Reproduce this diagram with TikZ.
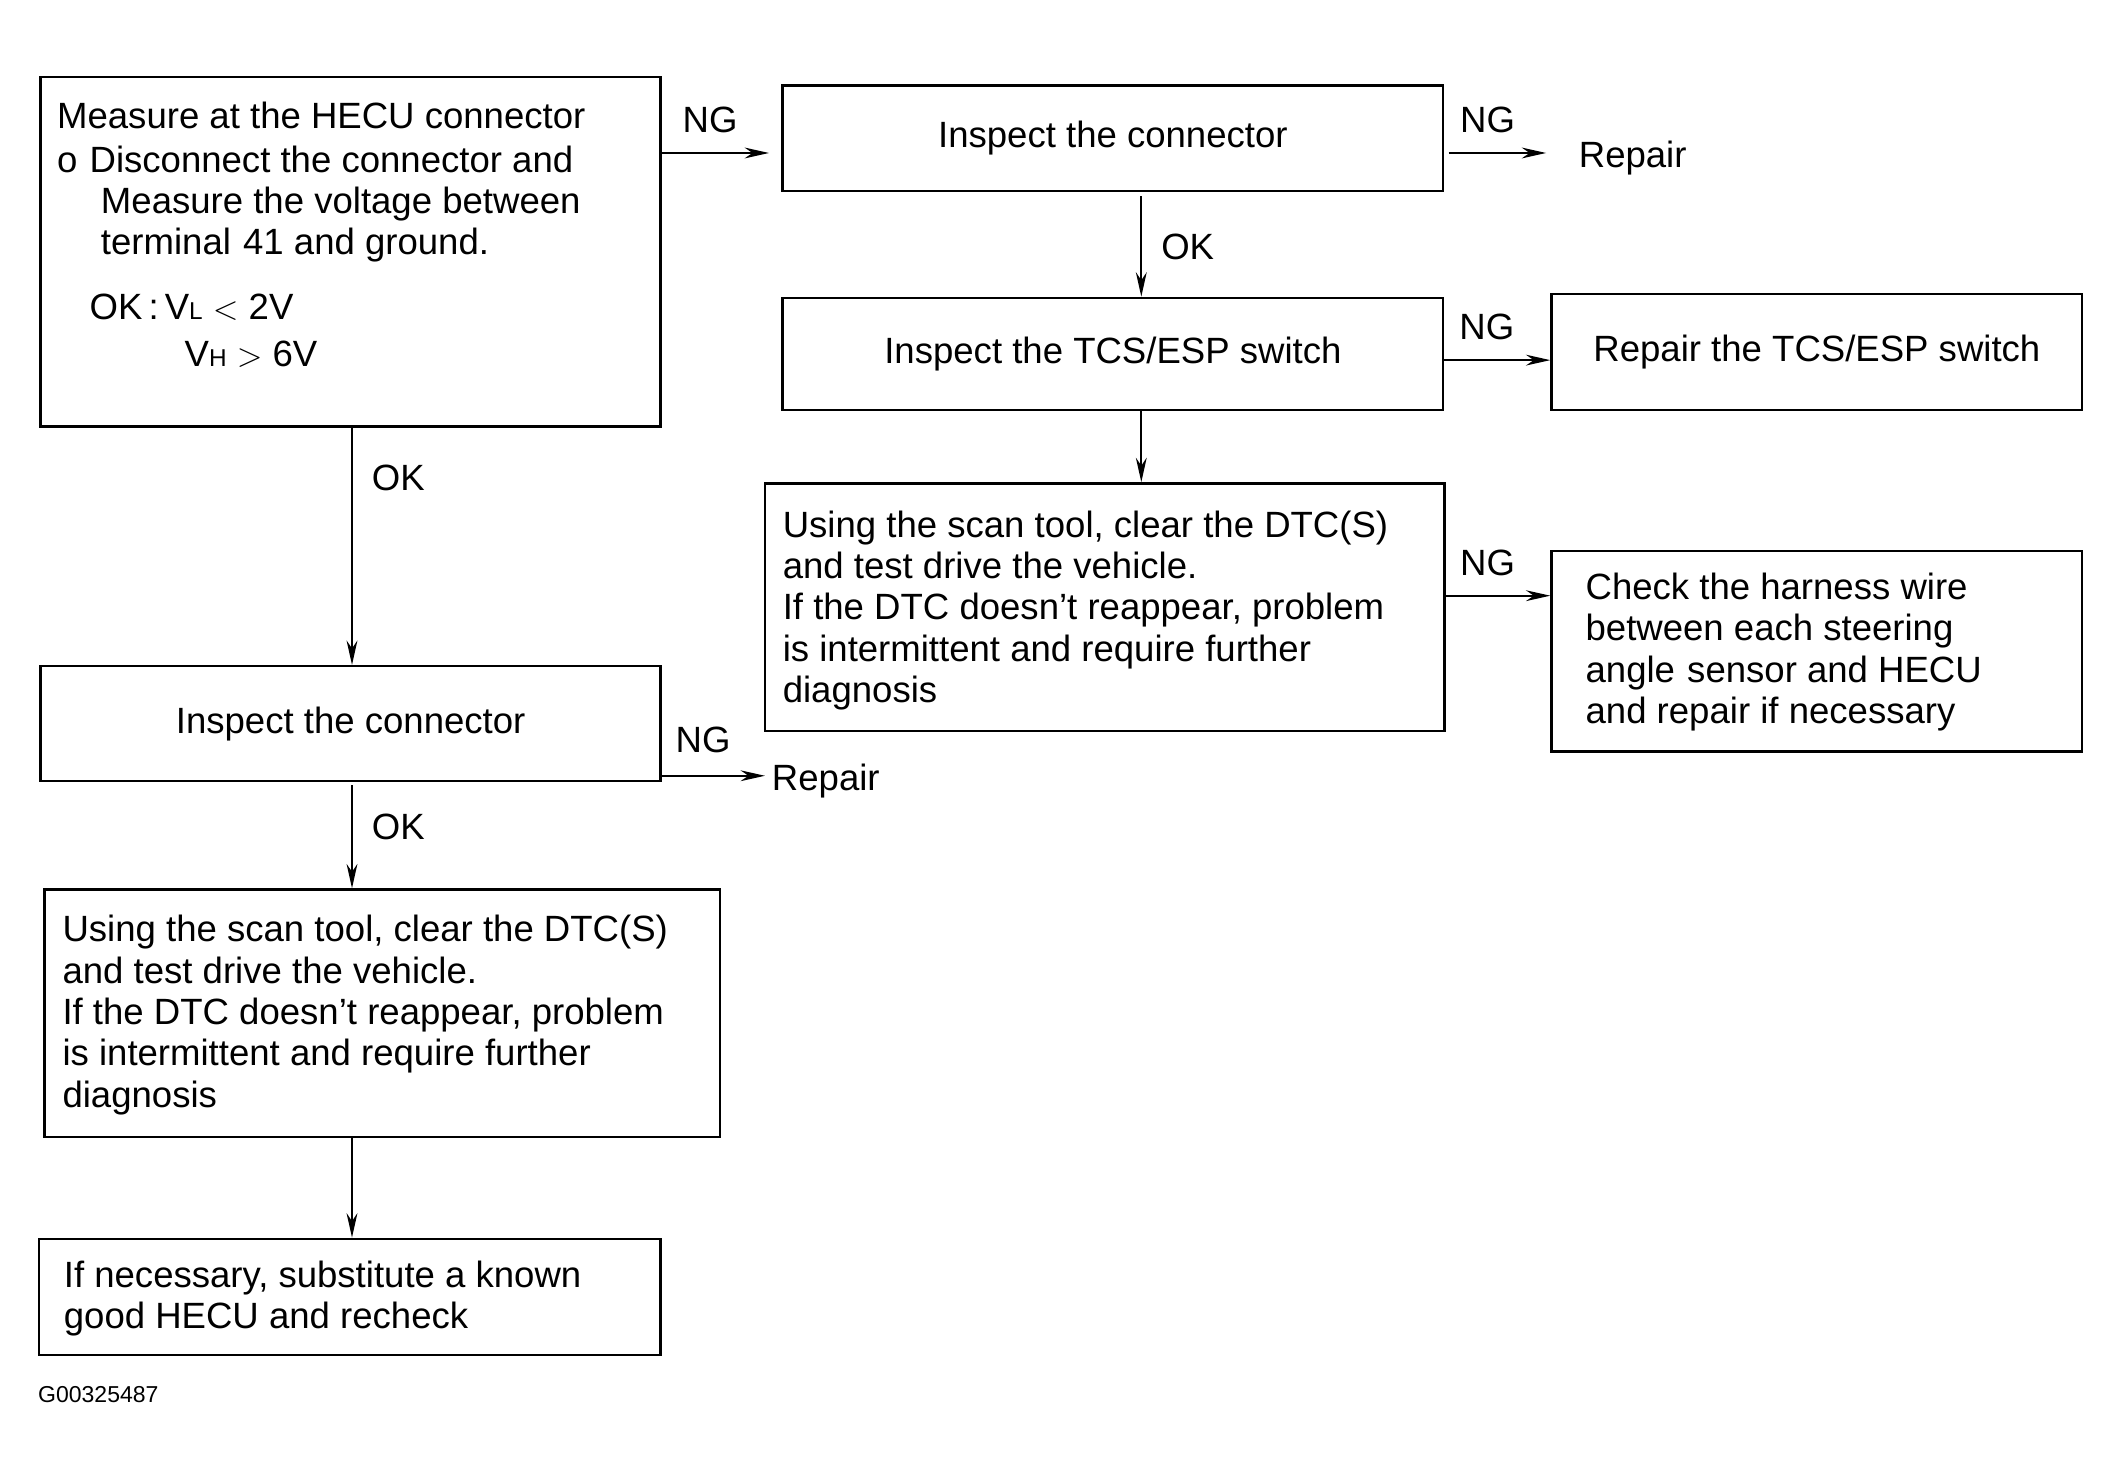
\documentclass[tikz,border=0pt]{standalone}
\usepackage{fontspec}
\setmainfont{Liberation Sans}
\usetikzlibrary{arrows.meta}
\begin{document}
\begin{tikzpicture}[x=1pt,y=-1pt,
  box/.style={draw,line width=1.8pt,inner sep=0pt},
  txt/.style={anchor=north west,align=left,inner sep=0pt,font=\fontsize{27}{30.5}\selectfont},
  lbl/.style={inner sep=0pt,font=\fontsize{27}{30}\selectfont},
  arr/.style={line width=1.5pt,-{Stealth[length=18pt,width=8pt]}}]
\useasboundingbox (0,0) rectangle (1560,1087);
% boxes
\node[box,minimum width=458pt,minimum height=258pt] (A) at (259,186) {};
\node[box,minimum width=488pt,minimum height=78pt] (B) at (822,102) {};
\node[box,minimum width=488pt,minimum height=83pt] (C) at (822,261.5) {};
\node[box,minimum width=502pt,minimum height=183pt] (D) at (816,448.5) {};
\node[box,minimum width=392pt,minimum height=86pt] (E) at (1342,260) {};
\node[box,minimum width=392pt,minimum height=148pt] (F) at (1342,481) {};
\node[box,minimum width=458pt,minimum height=85pt] (G) at (259,534.5) {};
\node[box,minimum width=499pt,minimum height=183pt] (H) at (282.5,748.5) {};
\node[box,minimum width=459pt,minimum height=86pt] (I) at (258.5,958) {};
% texts
\node[txt] (At) at (42,75) {Measure at the HECU connector\\[2pt]
o\,\,Disconnect the connector and\\
\hspace*{1.2em}Measure the voltage between\\
\hspace*{1.2em}terminal\,\,41 and ground.};
\node[txt] (Av) at (66,217) {OK\,:\,V{\fontsize{18}{20}\selectfont L} $<$ 2V\\[4pt]\hspace*{2.6em}V{\fontsize{18}{20}\selectfont H} $>$ 6V};
\node[lbl] at (B.center) {Inspect the connector};
\node[lbl] at (C.center) {Inspect the TCS/ESP switch};
\node[txt] at (578,377) {Using the scan tool, clear the DTC(S)\\and test drive the vehicle.\\If the DTC doesn't reappear, problem\\is intermittent and require further\\diagnosis};
\node[lbl] at (E.center) {Repair the TCS/ESP switch};
\node[txt] at (1171,423) {Check the harness wire\\between each steering\\angle\,\,sensor and HECU\\and repair if necessary};
\node[lbl] at (G.center) {Inspect the connector};
\node[txt] at (46,676) {Using the scan tool, clear the DTC(S)\\and test drive the vehicle.\\If the DTC doesn't reappear, problem\\is intermittent and require further\\diagnosis};
\node[txt] at (47,931) {If necessary, substitute a known\\good HECU and recheck};
\node[lbl,anchor=west,font=\fontsize{17}{20}\selectfont] at (28,1030) {G00325487};
% free ends
\node[lbl,anchor=west] (R1) at (1166,117) {Repair};
\node[lbl,anchor=west] (R2) at (570,577) {Repair};
\coordinate (r1) at (1142,113);
\coordinate (r2) at (565,573);
% connectors
\draw[arr] (A.east |- 0,113) -- (568,113) node[lbl,pos=0.45,above=14pt] {NG};
\draw[arr] (1070,113) -- (r1) node[lbl,pos=0.4,above=14pt] {NG};
\draw[arr] (843,145) -- (C.north -| 843,0) node[lbl,midway,right=14pt] {OK};
\draw[arr] (C.east |- 0,266) -- (E.west |- 0,266) node[lbl,pos=0.4,above=14pt] {NG};
\draw[arr] (C.south -| 843,0) -- (D.north -| 843,0);
\draw[arr] (D.east |- 0,440) -- (F.west |- 0,440) node[lbl,pos=0.4,above=14pt] {NG};
\draw[arr] (A.south -| 260,0) -- (G.north -| 260,0) node[lbl,pos=0.21,right=14pt] {OK};
\draw[arr] (G.east |- 0,573) -- (r2) node[lbl,pos=0.4,above=16pt] {NG};
\draw[arr] (260,580) -- (H.north -| 260,0) node[lbl,pos=0.4,right=14pt] {OK};
\draw[arr] (H.south -| 260,0) -- (I.north -| 260,0);
\end{tikzpicture}
\end{document}
